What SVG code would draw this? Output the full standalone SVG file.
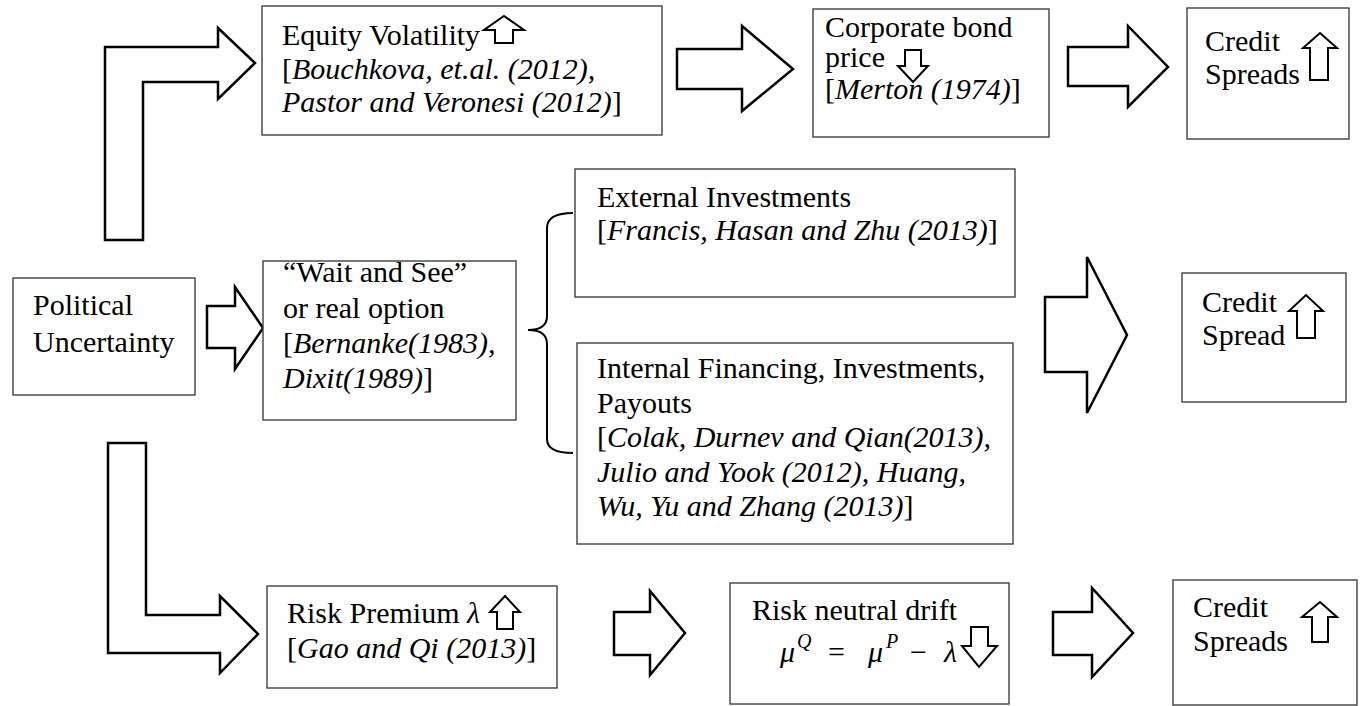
<svg xmlns="http://www.w3.org/2000/svg" width="1361" height="706" viewBox="0 0 1361 706">
<style>
.box{fill:#fff;stroke:#404040;stroke-width:1.4}
.arr{fill:#fff;stroke:#000;stroke-width:2.5;stroke-linejoin:miter}
.sm{fill:#fff;stroke:#000;stroke-width:2;stroke-linejoin:miter}
.brace{fill:none;stroke:#000;stroke-width:2}
text{font-family:"Liberation Serif","Times New Roman",serif;font-size:30px;fill:#000}
.i{font-style:italic}
.sup{font-size:20px;font-style:italic}
</style>
<rect width="1361" height="706" fill="#fff"/>
<g id="connectors">
<polygon class="arr" points="105,240 105,47 218,47 218,28 255,63 218,99 218,82 143,82 143,240"/>
<polygon class="arr" points="108,443 146,443 146,615 220,615 220,596 258,634 220,673 220,653 108,653"/>
<polygon class="arr" points="207,306 235,306 235,287 263,328 235,369 235,348 207,348"/>
<polygon class="arr" points="677,49 742,49 742,26 793,69 742,111 742,89 677,89"/>
<polygon class="arr" points="1068,47 1128,47 1128,26 1168,67 1128,107 1128,86 1068,86"/>
<polygon class="arr" points="1045,297 1087,297 1087,257 1127,335 1087,413 1087,372 1045,372"/>
<polygon class="arr" points="614,612 650,612 650,591 685,633 650,675 650,655 614,655"/>
<polygon class="arr" points="1053,612 1092,612 1092,588 1133,633 1092,677 1092,655 1053,655"/>
<path class="brace" d="M573,213 Q547,213 547,228 L547,316 Q547,330 528,330 Q547,330 547,344 L547,439 Q547,453 573,453"/>
</g>
<g id="political">
<rect class="box" x="13" y="278" width="182" height="117"/>
<text x="33" y="315">Political</text>
<text x="33" y="352">Uncertainty</text>
</g>
<g id="equity">
<rect class="box" x="262" y="6" width="400" height="129"/>
<text x="282" y="45">Equity Volatility</text>
<polygon class="sm" points="495,43 495,30 484,30 504,16 524,30 513,30 513,43"/>
<text x="282" y="79">[<tspan class="i">Bouchkova, et.al. (2012),</tspan></text>
<text x="282" y="112"><tspan class="i">Pastor and Veronesi (2012)</tspan>]</text>
</g>
<g id="bondprice">
<rect class="box" x="813" y="9" width="236" height="128"/>
<text x="825" y="37">Corporate bond</text>
<text x="825" y="67">price</text>
<polygon class="sm" points="905,50 921,50 921,66 928,66 913,82 898,66 905,66"/>
<text x="825" y="99">[<tspan class="i">Merton (1974)</tspan>]</text>
</g>
<g id="credit1">
<rect class="box" x="1187" y="8" width="162" height="131"/>
<text x="1205" y="51">Credit</text>
<text x="1205" y="84">Spreads</text>
<polygon class="sm" points="1310,80 1310,48 1303,48 1320,33 1337,48 1328,48 1328,80"/>
</g>
<g id="waitsee">
<rect class="box" x="263" y="261" width="253" height="159"/>
<text x="283" y="282">“Wait and See”</text>
<text x="283" y="318">or real option</text>
<text x="283" y="353">[<tspan class="i">Bernanke(1983),</tspan></text>
<text x="283" y="388"><tspan class="i">Dixit(1989)</tspan>]</text>
</g>
<g id="external">
<rect class="box" x="575" y="169" width="440" height="128"/>
<text x="597" y="207">External Investments</text>
<text x="597" y="240">[<tspan class="i">Francis, Hasan and Zhu (2013)</tspan>]</text>
</g>
<g id="internal">
<rect class="box" x="577" y="343" width="436" height="201"/>
<text x="597" y="378">Internal Financing, Investments,</text>
<text x="597" y="413">Payouts</text>
<text x="597" y="447">[<tspan class="i">Colak, Durnev and Qian(2013),</tspan></text>
<text x="597" y="482"><tspan class="i">Julio and Yook (2012), Huang,</tspan></text>
<text x="597" y="516"><tspan class="i">Wu, Yu and Zhang (2013)</tspan>]</text>
</g>
<g id="credit2">
<rect class="box" x="1182" y="273" width="164" height="129"/>
<text x="1202" y="312">Credit</text>
<text x="1202" y="345">Spread</text>
<polygon class="sm" points="1297,338 1297,311 1289,311 1306,295 1323,311 1315,311 1315,338"/>
</g>
<g id="riskpremium">
<rect class="box" x="267" y="586" width="290" height="102"/>
<text x="287" y="623">Risk Premium <tspan class="i">λ</tspan></text>
<polygon class="sm" points="497,629 497,612 490,612 505,596 520,612 513,612 513,629"/>
<text x="287" y="658">[<tspan class="i">Gao and Qi (2013)</tspan>]</text>
</g>
<g id="riskneutral">
<rect class="box" x="730" y="583" width="279" height="121"/>
<text x="752" y="620">Risk neutral drift</text>
<text x="780" y="662" class="i">μ</text>
<text x="797" y="648" class="sup">Q</text>
<text x="828" y="662">=</text>
<text x="868" y="662" class="i">μ</text>
<text x="886" y="648" class="sup">P</text>
<text x="910" y="662">−</text>
<text x="944" y="662" class="i">λ</text>
<polygon class="sm" points="971,627 988,627 988,646 997,646 979,667 962,646 971,646"/>
</g>
<g id="credit3">
<rect class="box" x="1173" y="580" width="184" height="125"/>
<text x="1193" y="617">Credit</text>
<text x="1193" y="651">Spreads</text>
<polygon class="sm" points="1312,642 1312,617 1302,617 1320,602 1337,617 1328,617 1328,642"/>
</g>
</svg>
